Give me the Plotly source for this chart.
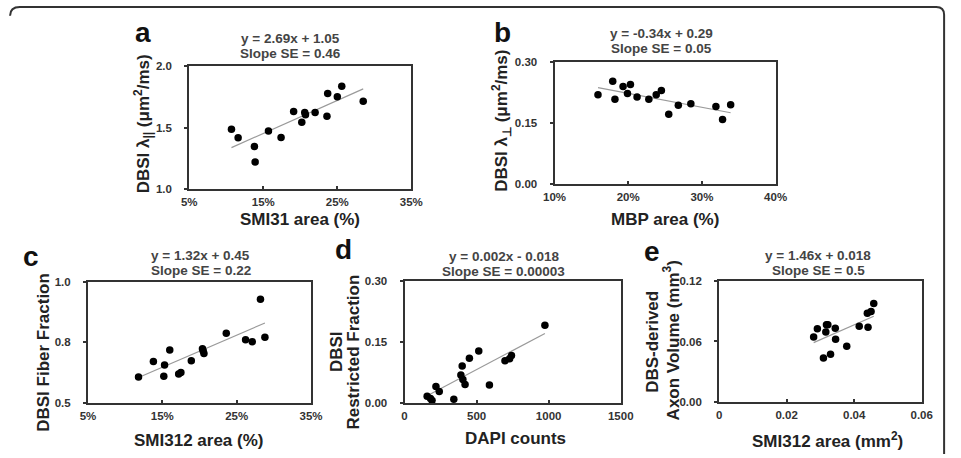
import plotly.graph_objects as go

# ---------------- data ----------------
a_x = [10.7, 11.6, 13.8, 13.9, 15.7, 17.4, 19.1, 20.2, 20.6, 20.7, 22.0, 23.6, 23.7, 25.0, 25.6, 28.5]
a_y = [1.487, 1.418, 1.348, 1.221, 1.473, 1.420, 1.633, 1.545, 1.625, 1.606, 1.625, 1.593, 1.779, 1.753, 1.838, 1.715]

b_x = [15.9, 17.9, 18.2, 19.3, 19.9, 20.3, 21.2, 22.8, 23.8, 24.5, 25.5, 26.8, 28.5, 31.9, 32.8, 33.9]
b_y = [0.219, 0.252, 0.208, 0.239, 0.222, 0.244, 0.213, 0.208, 0.219, 0.229, 0.171, 0.193, 0.197, 0.190, 0.158, 0.194]

c_x = [11.8, 13.8, 15.2, 15.3, 16.0, 17.2, 17.5, 18.9, 20.4, 20.5, 20.6, 23.6, 26.2, 27.1, 28.2, 28.8]
c_y = [0.608, 0.672, 0.611, 0.657, 0.719, 0.620, 0.627, 0.675, 0.724, 0.715, 0.705, 0.788, 0.761, 0.753, 0.927, 0.771]

d_x = [157, 180, 191, 218, 241, 342, 391, 400, 405, 420, 450, 515, 589, 697, 729, 742, 974]
d_y = [0.0174, 0.0118, 0.007, 0.041, 0.029, 0.010, 0.069, 0.091, 0.058, 0.046, 0.110, 0.128, 0.045, 0.104, 0.109, 0.117, 0.191]

e_x = [0.0280, 0.0291, 0.0318, 0.0316, 0.0322, 0.0344, 0.0345, 0.0309, 0.0330, 0.0378, 0.0415, 0.0441, 0.0439, 0.0450, 0.0458]
e_y = [0.0645, 0.0725, 0.0764, 0.0693, 0.0764, 0.0731, 0.0622, 0.0436, 0.0475, 0.0552, 0.0751, 0.0741, 0.0879, 0.0895, 0.0975]

# trend lines (slope, intercept); x in fraction for % panels
a_fit = (2.69, 1.05)
b_fit = (-0.34, 0.29)
c_fit = (1.32, 0.45)
d_fit = (0.000186, -0.0105)
e_fit = (1.46, 0.018)

equations = [
    ("y = 2.69x + 1.05", "Slope SE = 0.46"),
    ("y = -0.34x + 0.29", "Slope SE = 0.05"),
    ("y = 1.32x + 0.45", "Slope SE = 0.22"),
    ("y = 0.002x - 0.018", "Slope SE = 0.00003"),
    ("y = 1.46x + 0.018", "Slope SE = 0.5"),
]
letters = ["a", "b", "c", "d", "e"]

a_xticks = [5, 15, 25, 35]; a_yticks = [1.0, 1.5, 2.0]; a_ytext = ["1.0", "1.5", "2.0"]
b_xticks = [10, 20, 30, 40]; b_yticks = [0.0, 0.15, 0.30]; b_ytext = ["0.00", "0.15", "0.30"]
c_xticks = [5, 15, 25, 35]; c_yticks = [0.5, 0.75, 1.0]; c_ytext = ["0.5", "0.8", "1.0"]
d_xticks = [0, 500, 1000, 1500]; d_yticks = [0.0, 0.15, 0.30]; d_ytext = ["0.00", "0.15", "0.30"]
e_xticks = [0, 0.02, 0.04, 0.06]; e_yticks = [0.0, 0.06, 0.12]; e_ytext = ["0.00", "0.06", "0.12"]

W, H = 961, 458
FONT = "Arial, Liberation Sans, sans-serif"

def px(x):
    return x / W

def py(y):
    return 1 - y / H

panels = [
    dict(x=a_x, y=a_y, fit=a_fit, pct=True, xt=a_xticks, xtt=[f"{v}%" for v in a_xticks],
         yt=a_yticks, ytt=a_ytext, xr=[5, 35], yr=[1.0, 2.0], box=(182, 410, 62, 188),
         letter=(135, 27), eq=(286, 33),
         ytitles=[("DBSI λ<sub>||</sub> (μm<sup>2</sup>/ms)", 135, 121)],
         xtitle="SMI31 area (%)", xtpos=(296, 219)),
    dict(x=b_x, y=b_y, fit=b_fit, pct=True, xt=b_xticks, xtt=[f"{v}%" for v in b_xticks],
         yt=b_yticks, ytt=b_ytext, xr=[10, 40], yr=[0, 0.30], box=(557, 784, 57, 183),
         letter=(504, 27), eq=(667, 28),
         ytitles=[("DBSI λ<sub>⊥</sub> (μm<sup>2</sup>/ms)", 503, 118)],
         xtitle="MBP area (%)", xtpos=(670, 219)),
    dict(x=c_x, y=c_y, fit=c_fit, pct=True, xt=c_xticks, xtt=[f"{v}%" for v in c_xticks],
         yt=c_yticks, ytt=c_ytext, xr=[5, 35], yr=[0.5, 1.0], box=(78, 307, 283, 408),
         letter=(20, 257), eq=(194, 256),
         ytitles=[("DBSI Fiber Fraction", 33, 356)],
         xtitle="SMI312 area (%)", xtpos=(191, 446)),
    dict(x=d_x, y=d_y, fit=d_fit, pct=False, xt=d_xticks, xtt=[str(v) for v in d_xticks],
         yt=d_yticks, ytt=d_ytext, xr=[0, 1500], yr=[0, 0.30], box=(403, 625, 282, 408),
         letter=(340, 250), eq=(505, 257),
         ytitles=[("DBSI", 333, 355), ("Restricted Fraction", 351, 355)],
         xtitle="DAPI counts", xtpos=(517, 444)),
    dict(x=e_x, y=e_y, fit=e_fit, pct=False, xt=e_xticks, xtt=["0", "0.02", "0.04", "0.06"],
         yt=e_yticks, ytt=e_ytext, xr=[0, 0.06], yr=[0, 0.12], box=(726, 934, 282, 407),
         letter=(657, 252), eq=(828, 256),
         ytitles=[("DBS-derived", 658, 345), ("Axon Volume (mm<sup>3</sup>)", 677, 343)],
         xtitle="SMI312 area (mm<sup>2</sup>)", xtpos=(837, 446)),
]

fig = go.Figure()
annotations = []
layout = {}

for i, p in enumerate(panels, start=1):
    xa = "x" if i == 1 else f"x{i}"
    ya = "y" if i == 1 else f"y{i}"
    l, r, t, b = p["box"]
    axis_common = dict(showgrid=False, zeroline=False, showline=True, mirror=True,
                       linecolor="#333333", linewidth=2, tickwidth=1.5, tickcolor="#333333",
                       ticklen=3, tickfont=dict(family=FONT, size=11.5, color="#333333", weight="bold"),
                       fixedrange=True)
    layout["xaxis" if i == 1 else f"xaxis{i}"] = dict(
        domain=[px(l), px(r)], range=p["xr"], anchor=ya, tickmode="array",
        tickvals=p["xt"], ticktext=p["xtt"], ticks="inside", ticklabelstandoff=1, **axis_common)
    layout["yaxis" if i == 1 else f"yaxis{i}"] = dict(
        domain=[py(b), py(t)], range=p["yr"], anchor=xa, tickmode="array",
        tickvals=p["yt"], ticktext=p["ytt"], ticks="outside", ticklabelstandoff=10, **axis_common)

    # trend line
    xmin, xmax = min(p["x"]), max(p["x"])
    s, c0 = p["fit"]
    scale = 100.0 if p["pct"] else 1.0
    fig.add_trace(go.Scatter(x=[xmin, xmax], y=[s * xmin / scale + c0, s * xmax / scale + c0],
                             mode="lines", line=dict(color="#9a9a9a", width=1.2),
                             xaxis=xa, yaxis=ya, showlegend=False, hoverinfo="skip"))
    # points
    fig.add_trace(go.Scatter(x=p["x"], y=p["y"], mode="markers",
                             marker=dict(color="black", size=7.5),
                             xaxis=xa, yaxis=ya, showlegend=False))

    eq1, eq2 = equations[i - 1]
    eqfont = dict(family=FONT, size=13.5, color="#444444", weight="bold")
    annotations.append(dict(x=px(p["eq"][0]), y=py(p["eq"][1]), xref="paper", yref="paper",
                            text=eq1, showarrow=False, xanchor="center", yanchor="middle",
                            font=eqfont))
    annotations.append(dict(x=px(p["eq"][0]), y=py(p["eq"][1] + 16), xref="paper", yref="paper",
                            text=eq2, showarrow=False, xanchor="center", yanchor="middle",
                            font=eqfont))
    annotations.append(dict(x=px(p["letter"][0]), y=py(p["letter"][1]), xref="paper", yref="paper",
                            text=letters[i - 1], showarrow=False, xanchor="center", yanchor="middle",
                            font=dict(family=FONT, size=28, color="#111111", weight="bold")))
    for txt, tx, ty in p["ytitles"]:
        annotations.append(dict(x=px(tx), y=py(ty), xref="paper", yref="paper",
                                text=txt, showarrow=False, textangle=-90,
                                xanchor="center", yanchor="middle",
                                font=dict(family=FONT, size=17, color="#222222", weight="bold")))
    annotations.append(dict(x=px(p["xtpos"][0]), y=py(p["xtpos"][1]), xref="paper", yref="paper",
                            text=p["xtitle"], showarrow=False, xanchor="center", yanchor="middle",
                            font=dict(family=FONT, size=17, color="#222222", weight="bold")))

# outer frame (rounded corner)
frame_path = (f"M {px(-2)},{py(10)} Q {px(-2)},{py(1)} {px(8)},{py(1)} "
              f"L {px(949)},{py(1)} Q {px(957)},{py(1)} {px(957)},{py(9)} L {px(957)},{py(460)}")

fig.update_layout(
    width=W, height=H, margin=dict(l=0, r=0, t=0, b=0),
    paper_bgcolor="white", plot_bgcolor="white",
    annotations=annotations,
    shapes=[dict(type="path", xref="paper", yref="paper", path=frame_path,
                 line=dict(color="#333333", width=2))],
    **layout,
)

fig.write_html("out.html")
